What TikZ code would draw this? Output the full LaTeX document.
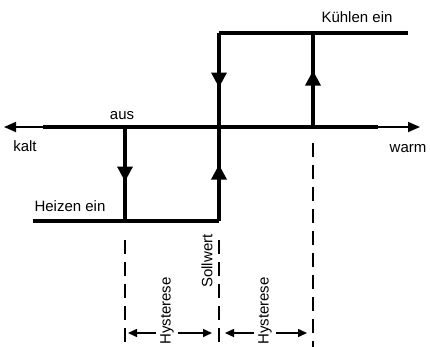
\documentclass[tikz,border=0pt]{standalone}
\usepackage{fontspec}
\setmainfont{Liberation Sans}
\usepackage{tikz}
\usetikzlibrary{arrows.meta, decorations.markings}

\begin{document}
\begin{tikzpicture}[x = 1pt, y = -1pt, font = \fontsize{15}{18}\selectfont,
  thickline/.style = {line width = 3.5pt},
  thinline/.style = {line width = 1.8pt},
  midarrow/.style = {postaction = {decorate, decoration = {markings,
      mark = at position #1 with {\arrow{Triangle[length = 15pt, width = 15pt]}}}}},
  guide/.style = {line width = 1.8pt, dash pattern = on 14pt off 8pt},
  dimline/.style = {line width = 1.5pt,
      {Triangle[length = 9pt, width = 8pt]}-{Triangle[length = 9pt, width = 8pt]}}]
  \useasboundingbox (0, 0) rectangle (430, 347);
  % axis
  \coordinate (L) at (43, 127);
  \coordinate (R) at (378, 127);
  \coordinate (tipL) at (4, 127);
  \coordinate (tipR) at (420, 127);
  \draw[thinline, -{Triangle[length = 12pt, width = 10pt]}] (L) -- (tipL);
  \draw[thinline, -{Triangle[length = 12pt, width = 10pt]}] (R) -- (tipR);
  \draw[line width = 4pt] (L) -- (R);
  % hysteresis
  \coordinate (hm) at (125, 127);
  \coordinate (hb) at (125, 221);
  \coordinate (bl) at (33, 221);
  \coordinate (sb) at (219, 221);
  \coordinate (sm) at (219, 127);
  \coordinate (st) at (219, 33);
  \coordinate (tr) at (408, 33);
  \coordinate (km) at (313, 127);
  \coordinate (kt) at (313, 33);
  \draw[thickline, midarrow = 0.58] (hm) -- (hb);
  \draw[thickline] (bl) -- (sb);
  \draw[thickline, midarrow = 0.6] (sb) -- (sm);
  \draw[thickline, midarrow = 0.58] (st) -- (sm);
  \draw[thickline] (st) -- (tr);
  \draw[thickline, midarrow = 0.6] (km) -- (kt);
  % guides
  \coordinate (g1t) at (125, 240);
  \coordinate (g1b) at (125, 347);
  \coordinate (g2t) at (219, 240);
  \coordinate (g2b) at (219, 347);
  \coordinate (g3t) at (313, 143);
  \coordinate (g3b) at (313, 347);
  \draw[guide] (g1t) -- (g1b);
  \draw[guide] (g2t) -- (g2b);
  \draw[guide] (g3t) -- (g3b);
  \coordinate (d1a) at (128, 333);
  \coordinate (d1b) at (212, 333);
  \coordinate (d2a) at (225, 333);
  \coordinate (d2b) at (307, 333);
  \draw[dimline] (d1a) -- (d1b);
  \draw[dimline] (d2a) -- (d2b);
  % labels
  \node[anchor = base] (kuehlen) at (357, 23) {Kühlen ein};
  \node[anchor = base] (heizen) at (70, 211) {Heizen ein};
  \node[anchor = base] (aus) at (122, 120) {aus};
  \node[anchor = base] (kalt) at (25, 152) {kalt};
  \node[anchor = base] (warm) at (408, 153) {warm};
  \node[rotate = 90] (soll) at (207, 261) {Sollwert};
  \node[rotate = 90, fill = white, inner sep = 4pt] (hyst1) at (167, 311) {Hysterese};
  \node[rotate = 90, fill = white, inner sep = 4pt] (hyst2) at (265, 311) {Hysterese};
\end{tikzpicture}
\end{document}
